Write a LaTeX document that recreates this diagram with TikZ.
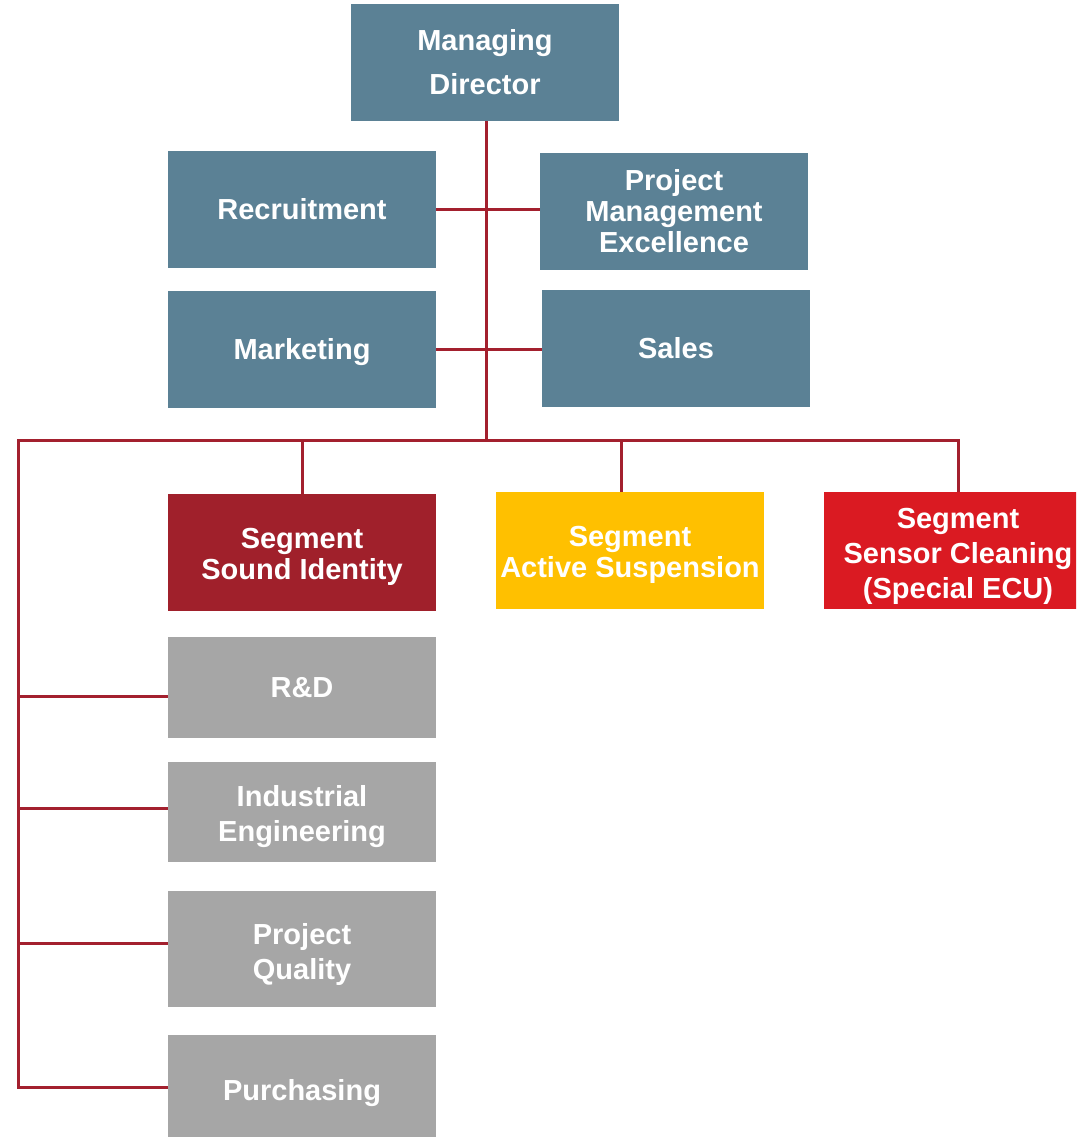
\documentclass[tikz,border=0pt]{standalone}
\usepackage{fontspec}
\setmainfont{Liberation Sans}
\definecolor{boxblue}{HTML}{5B8195}
\definecolor{soundred}{HTML}{A0202B}
\definecolor{actyellow}{HTML}{FFC000}
\definecolor{sensred}{HTML}{DA1A22}
\definecolor{boxgray}{HTML}{A6A6A6}
\definecolor{linered}{HTML}{A3202E}
\newcommand\topstrut[1]{\rule{0pt}{#1pt}}
\tikzset{
  orgbox/.style={rectangle, inner sep=0pt, minimum width=268pt, text=white,
    font=\bfseries\fontsize{29}{31}\selectfont, align=center},
  bluebox/.style={orgbox, fill=boxblue, minimum height=117pt},
  graybox/.style={orgbox, fill=boxgray},
  conn/.style={draw=linered, line width=3pt}
}
\begin{document}
\begin{tikzpicture}[x=1pt,y=-1pt]
\useasboundingbox (0,0) rectangle (1076,1137);
\clip (0,0) rectangle (1076,1137);
% top
\node[bluebox, font=\bfseries\fontsize{29}{44}\selectfont] (md) at (485,62.5) {Managing\\Director};
\node[bluebox] (rec) at (302,209.5) {Recruitment};
\node[bluebox] (pme) at (674,211.5) {Project\\Management\\Excellence};
\node[bluebox] (mkt) at (302,349.5) {\topstrut{27}Marketing};
\node[bluebox] (sales) at (676,348.5) {Sales};
% segments
\node[orgbox, fill=soundred, minimum height=117pt] (sound) at (302,552.5) {\topstrut{29}Segment\\Sound Identity};
\node[orgbox, fill=actyellow, minimum height=117pt] (active) at (630,550.5) {\topstrut{29}Segment\\Active Suspension};
\node[orgbox, fill=sensred, minimum height=117pt, font=\bfseries\fontsize{29}{35}\selectfont] (sensor) at (958,550.5) {\topstrut{33}Segment\\Sensor Cleaning\\(Special ECU)};
% functions
\node[graybox, minimum height=101pt] (rd) at (302,687.5) {R\&D};
\node[graybox, minimum height=100pt, font=\bfseries\fontsize{29}{35}\selectfont] (ie) at (302,812) {\topstrut{31}Industrial\\Engineering};
\node[graybox, minimum height=116pt, font=\bfseries\fontsize{29}{35}\selectfont] (pq) at (302,949) {\topstrut{31}Project\\Quality};
\node[graybox, minimum height=110pt] (pur) at (302,1090) {\topstrut{27}Purchasing};
% coordinates
\coordinate (jn) at (486,440);
\coordinate (hl) at (18,440);
\coordinate (hr) at (958,440);
\coordinate (dA) at (621,440);
\coordinate (b1) at (18,696);
\coordinate (b2) at (18,808);
\coordinate (b3) at (18,943);
\coordinate (b4) at (18,1087);
% connectors
\draw[conn] (md.south -| jn) -- (jn);
\draw[conn] (rec.east) -- (rec.east -| pme.west);
\draw[conn] (mkt.east) -- (mkt.east -| sales.west);
\draw[conn, line cap=rect] (hl) -- (hr);
\draw[conn] (sound.north |- hl) -- (sound.north);
\draw[conn] (dA) -- (dA |- active.north);
\draw[conn] (hr) -- (sensor.north);
\draw[conn, line cap=rect] (hl) -- (b4);
\draw[conn] (b1) -- (b1 -| rd.west);
\draw[conn] (b2) -- (b2 -| ie.west);
\draw[conn] (b3) -- (b3 -| pq.west);
\draw[conn] (b4) -- (b4 -| pur.west);
\end{tikzpicture}
\end{document}
